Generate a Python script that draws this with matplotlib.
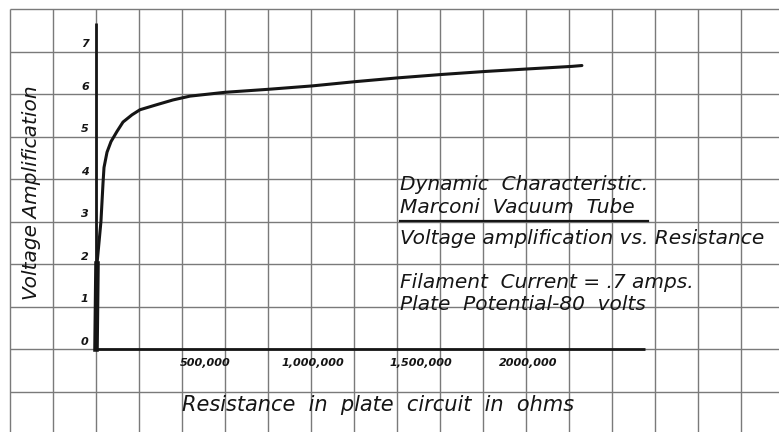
import matplotlib
matplotlib.use("Agg")
import matplotlib.pyplot as plt
import numpy as np

# ---- data ----
resistance_ohms = [0, 4650, 23000, 32600, 37200, 51200, 69800, 97700, 125600,
                   167400, 204700, 283700, 358100, 437200, 600000, 800000,
                   1004700, 1204700, 1404700, 1609300, 1809300, 2009300,
                   2214000, 2260000]
voltage_amp = [0.0, 2.0, 3.0, 3.9, 4.27, 4.63, 4.88, 5.12, 5.34,
               5.51, 5.63, 5.75, 5.86, 5.95, 6.04, 6.11,
               6.19, 6.29, 6.38, 6.46, 6.53, 6.59,
               6.65, 6.67]

x_tick_values = [500000, 1000000, 1500000, 2000000]
x_tick_labels = ["500,000", "1,000,000", "1,500,000", "2000,000"]
y_tick_values = [0, 1, 2, 3, 4, 5, 6, 7]
y_tick_labels = ["0", "1", "2", "3", "4", "5", "6", "7"]

x_label = "Resistance  in  plate  circuit  in  ohms"
y_label = "Voltage Amplification"
note_lines = ["Dynamic  Characteristic.",
              "Marconi  Vacuum  Tube",
              "Voltage amplification vs. Resistance",
              "Filament  Current = .7 amps.",
              "Plate  Potential-80  volts"]

# ---- figure ----
W, H = 779, 432
fig = plt.figure(figsize=(W / 100, H / 100), dpi=100)
ax = fig.add_axes([0, 0, 1, 1])
ax.set_axis_off()

x0_px, y0_px = 96, 349        # origin in pixels
cell_x, cell_y = 43.0, 42.5   # grid cell size in pixels
ohm_per_cell = 200000

xmin = -x0_px / cell_x * ohm_per_cell
xmax = (W - x0_px) / cell_x * ohm_per_cell
ymin = (y0_px - H) / cell_y
ymax = y0_px / cell_y
ax.set_xlim(xmin, xmax)
ax.set_ylim(ymin, ymax)

grid_col = "#7a7a7a"
# graph-paper grid
vx = np.arange(-400000, 3000001, 200000)
ax.vlines(vx, ymin, 8, color=grid_col, lw=1.0, zorder=1)
hy = np.arange(-1, 9)
ax.hlines(hy, -400000, xmax, color=grid_col, lw=1.0, zorder=1)

# axes
ink = "#151515"
ax.plot([0, 0], [0, 7.67], color=ink, lw=2.0, zorder=3, solid_capstyle="butt")
ax.plot([0, 2553000], [0, 0], color=ink, lw=2.0, zorder=3, solid_capstyle="butt")

# curve
ax.plot(resistance_ohms, voltage_amp, color=ink, lw=2.2, zorder=4,
        solid_capstyle="round", solid_joinstyle="round")
ax.plot(resistance_ohms[:2], voltage_amp[:2], color=ink, lw=4.0, zorder=4)

font = dict(family="DejaVu Sans", style="italic", color=ink)

# tick labels
for v, lab in zip(x_tick_values, x_tick_labels):
    ax.text(v + 10000, -0.33, lab, ha="center", va="center", fontsize=8,
            fontweight="bold", **font)
for v, lab in zip(y_tick_values, y_tick_labels):
    ax.text(-52000, v + 0.05, lab, ha="center", va="bottom",
            fontsize=8, fontweight="bold", **font)

# axis labels
ax.text(-302000, 3.67, y_label, rotation=90, ha="center", va="center",
        fontsize=14.5, **font)
ax.text(400000, -1.32, x_label, ha="left", va="center", fontsize=15, **font)

# note block
note_x = (400 - x0_px) / cell_x * ohm_per_cell
note_baselines_px = [190, 213, 244, 288, 310]
for txt, bpx in zip(note_lines, note_baselines_px):
    ax.text(note_x, (y0_px - bpx) / cell_y, txt, ha="left", va="baseline",
            fontsize=14.5, **font)
ax.plot([note_x, (648 - x0_px) / cell_x * ohm_per_cell], [3.01, 3.01],
        color=ink, lw=1.6, zorder=3)

fig.savefig("out.png", dpi=100, facecolor="white")
